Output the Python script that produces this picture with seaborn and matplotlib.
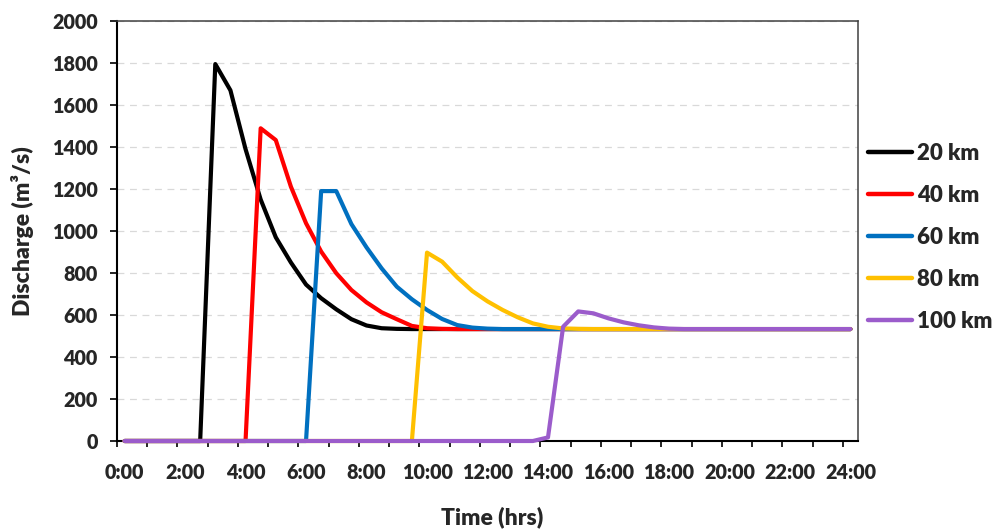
import matplotlib
matplotlib.use("Agg")
import matplotlib.pyplot as plt
from matplotlib.ticker import FixedLocator
import seaborn as sns
import pandas as pd

times = ["0:00", "0:30", "1:00", "1:30", "2:00", "2:30", "3:00", "3:30", "4:00", "4:30",
         "5:00", "5:30", "6:00", "6:30", "7:00", "7:30", "8:00", "8:30", "9:00", "9:30",
         "10:00", "10:30", "11:00", "11:30", "12:00", "12:30", "13:00", "13:30", "14:00", "14:30",
         "15:00", "15:30", "16:00", "16:30", "17:00", "17:30", "18:00", "18:30", "19:00", "19:30",
         "20:00", "20:30", "21:00", "21:30", "22:00", "22:30", "23:00", "23:30", "24:00"]

q20 = [0, 0, 0, 0, 0, 0, 1795, 1670, 1390, 1150,
       970, 850, 745, 680, 627, 580, 550, 537, 534, 533,
       533, 533, 533, 533, 533, 533, 533, 533, 533, 533,
       533, 533, 533, 533, 533, 533, 533, 533, 533, 533,
       533, 533, 533, 533, 533, 533, 533, 533, 533]
q40 = [0, 0, 0, 0, 0, 0, 0, 0, 0, 1489,
       1433, 1211, 1037, 902, 799, 719, 660, 613, 580, 548,
       537, 534, 533, 533, 533, 533, 533, 533, 533, 533,
       533, 533, 533, 533, 533, 533, 533, 533, 533, 533,
       533, 533, 533, 533, 533, 533, 533, 533, 533]
q60 = [0, 0, 0, 0, 0, 0, 0, 0, 0, 0,
       0, 0, 0, 1190, 1190, 1033, 922, 822, 735, 675,
       624, 581, 552, 540, 535, 533, 533, 533, 533, 533,
       533, 533, 533, 533, 533, 533, 533, 533, 533, 533,
       533, 533, 533, 533, 533, 533, 533, 533, 533]
q80 = [0, 0, 0, 0, 0, 0, 0, 0, 0, 0,
       0, 0, 0, 0, 0, 0, 0, 0, 0, 0,
       897, 854, 779, 714, 665, 624, 589, 560, 544, 536,
       534, 533, 533, 533, 533, 533, 533, 533, 533, 533,
       533, 533, 533, 533, 533, 533, 533, 533, 533]
q100 = [0, 0, 0, 0, 0, 0, 0, 0, 0, 0,
        0, 0, 0, 0, 0, 0, 0, 0, 0, 0,
        0, 0, 0, 0, 0, 0, 0, 0, 17, 544,
        617, 608, 584, 565, 551, 541, 535, 533, 533, 533,
        533, 533, 533, 533, 533, 533, 533, 533, 533]

series_names = ["20 km", "40 km", "60 km", "80 km", "100 km"]
series_values = [q20, q40, q60, q80, q100]
colors = ["#000000", "#FF0000", "#0070C0", "#FFC000", "#9B5CCB"]
y_ticks = [0, 200, 400, 600, 800, 1000, 1200, 1400, 1600, 1800, 2000]

rows = []
for name, vals in zip(series_names, series_values):
    for i, v in enumerate(vals):
        rows.append({"pos": i, "time": times[i], "Discharge": v, "series": name})
df = pd.DataFrame(rows)

sns.set_style("white")
plt.rcParams["font.family"] = ["Lato", "DejaVu Sans"]
W = "heavy"
plt.rcParams["font.weight"] = W

fig = plt.figure(figsize=(9.95, 5.31), dpi=100)
ax = fig.add_axes([117 / 995, 1 - 441 / 531, (858 - 117) / 995, (441 - 21) / 531])

sns.lineplot(data=df, x="pos", y="Discharge", hue="series", hue_order=series_names,
             palette=dict(zip(series_names, colors)), linewidth=3, sort=False,
             estimator=None, ax=ax)
for ln in ax.lines:
    ln.set_solid_capstyle("round")
    ln.set_solid_joinstyle("round")
    ln.set_clip_on(False)
    ln.set_zorder(3)

n = len(times)
ax.set_xlim(-0.5, n - 0.5)
ax.set_ylim(0, 2000)

ax.set_yticks(y_ticks)
ax.set_yticklabels([str(v) for v in y_ticks], fontsize=14.2, fontweight=W)
ax.set_xticks(list(range(0, n, 4)))
ax.set_xticklabels(times[::4], fontsize=14.2, fontweight=W)
ax.xaxis.set_minor_locator(FixedLocator([p - 0.5 for p in range(0, n + 1, 2)]))

ax.tick_params(axis="x", which="major", length=0, pad=16)
ax.tick_params(axis="x", which="minor", length=4.5, width=1.2, color="black", direction="out", bottom=True)
ax.tick_params(axis="y", which="major", length=5, width=1.2, color="black", direction="out", pad=9, left=True)

ax.yaxis.grid(True, color="#D9D9D9", linewidth=0.9, linestyle=(0, (5.5, 4.5)))
ax.xaxis.grid(False)
ax.set_axisbelow(True)

for s in ["left", "bottom"]:
    ax.spines[s].set_color("black")
    ax.spines[s].set_linewidth(1.5)
    ax.spines[s].set_zorder(2.5)
for s in ["top", "right"]:
    ax.spines[s].set_visible(True)
    ax.spines[s].set_color("#404040")
    ax.spines[s].set_linewidth(1.1)

ax.set_xlabel("Time (hrs)", fontsize=16.5, fontweight=W)
ax.set_ylabel("Discharge (m³/s)", fontsize=16.5, fontweight=W)
ax.xaxis.label.set_va("center")
ax.yaxis.label.set_va("center")
ax.xaxis.set_label_coords((492 - 117) / 741, (441 - 517) / 420)
ax.yaxis.set_label_coords((23 - 117) / 741, 0.5)

handles, labels = ax.get_legend_handles_labels()
leg = fig.legend(handles, labels, loc="center left", bbox_to_anchor=(868 / 995, 1 - 237.5 / 531),
                 frameon=False, handlelength=2.0, handletextpad=0.22,
                 labelspacing=0.95, borderpad=0, borderaxespad=0,
                 prop={"weight": W, "size": 16})
for lh in leg.get_lines():
    lh.set_linewidth(3.2)
if ax.get_legend() is not None:
    ax.get_legend().remove()

fig.savefig("out.png", dpi=100)
